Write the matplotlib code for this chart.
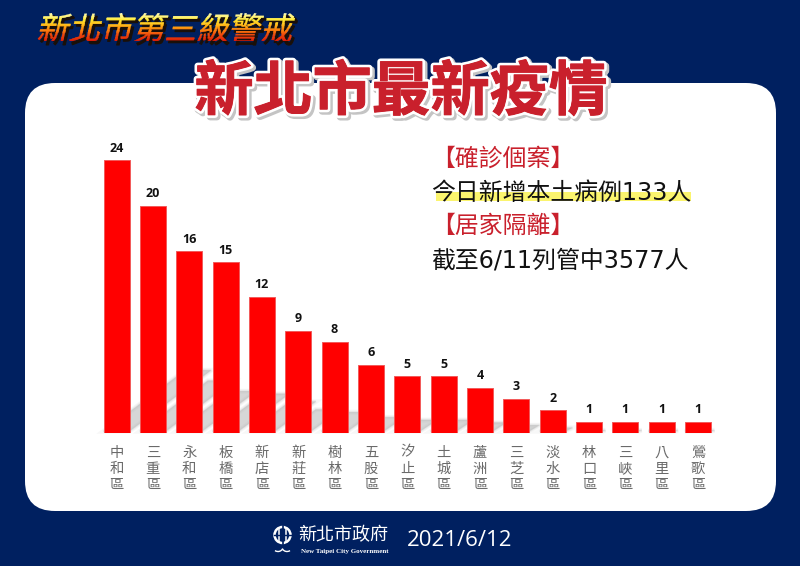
# -*- coding: utf-8 -*-
"""New Taipei daily case card: district bars on a white panel over navy."""
import matplotlib; matplotlib.use("Agg")
import matplotlib.pyplot as plt
import matplotlib.patheffects as pe
from matplotlib.patches import FancyBboxPatch, Rectangle, Polygon, Circle, Arc
from matplotlib.transforms import Affine2D, Bbox
from matplotlib.colors import LinearSegmentedColormap

plt.rcParams["font.family"] = ["Noto Sans CJK TC", "DejaVu Sans"]

districts = ["中和區", "三重區", "永和區", "板橋區", "新店區", "新莊區", "樹林區", "五股區", "汐止區",
             "土城區", "蘆洲區", "三芝區", "淡水區", "林口區", "三峽區", "八里區", "鶯歌區"]
cases = [24, 20, 16, 15, 12, 9, 8, 6, 5, 5, 4, 3, 2, 1, 1, 1, 1]

NAVY = "#002060"
W, H = 800, 566
BAR_W = 26 / 36.34
SHADOW_FRAC = 0.23    # share of the bar height that the floor shadow reaches
SHADOW_LEAN = 0.407   # bar-slots of drift per unit of height
NOTE_FONT = ["DejaVu Sans", "Noto Sans CJK TC"]   # wide digits, CJK falls through


class SlantedGradient(pe.AbstractPathEffect):
    """Shears the glyphs and paints them in horizontal colour bands."""

    def __init__(self, x0, y_top, y_bottom, cmap, slant=13, bands=24):
        self.x0, self.y_top, self.y_bottom = x0, H - y_top, H - y_bottom
        self.cmap, self.slant, self.bands = cmap, slant, bands

    def draw_path(self, renderer, gc, tpath, affine, rgbFace=None):
        shear = Affine2D().translate(-self.x0, -self.y_bottom).skew_deg(self.slant, 0)
        shear = shear.translate(self.x0, self.y_bottom)
        full = affine + shear

        back = renderer.new_gc()
        back.copy_properties(gc)
        back.set_foreground("#1a1008")
        back.set_linewidth(0.8)
        renderer.draw_path(back, tpath, full + Affine2D().translate(2.5, -2.5), (0.1, 0.06, 0.03, 1))
        back.restore()

        step = (self.y_top - self.y_bottom) / self.bands
        for k in range(self.bands):
            y0 = self.y_bottom + k * step
            col = self.cmap((k + 0.5) / self.bands)
            band = renderer.new_gc()
            band.copy_properties(gc)
            band.set_clip_rectangle(Bbox.from_extents(0, y0, W, y0 + step + 0.5))
            band.set_foreground(col)
            band.set_linewidth(0.2)
            renderer.draw_path(band, tpath, full, col)
            band.restore()


fig = plt.figure(figsize=(W / 100, H / 100), dpi=100, facecolor=NAVY)
bg = fig.add_axes([0, 0, 1, 1])
bg.set_xlim(0, W); bg.set_ylim(H, 0); bg.axis("off")

# white panel
bg.add_patch(FancyBboxPatch((25, 83), 751, 428, boxstyle="round,pad=0,rounding_size=30",
                            facecolor="white", edgecolor="none"))

# ---- headings ----
fire = LinearSegmentedColormap.from_list("fire", ["#d81a08", "#f0500c", "#ffa010", "#ffe92e", "#fffcc0"])
sub = bg.text(36, 40, "新北市第三級警戒", fontsize=23, fontweight="medium", color="#ffb010",
              ha="left", va="baseline")
sub.set_path_effects([SlantedGradient(36, 13, 41, fire)])

main = bg.text(401, 110, "新北市最新疫情", fontsize=42.5, fontweight="bold", color="#c9202c",
               ha="center", va="baseline")
main.set_path_effects([
    pe.Stroke(linewidth=5, foreground="#c4c4c4", offset=(1.5, -1.5)),
    pe.Stroke(linewidth=4.5, foreground="white"),
    pe.Stroke(linewidth=0.7, foreground="#c9202c"),
    pe.Normal(),
])

# ---- notes ----
bg.add_patch(Rectangle((436, 192), 255, 9, facecolor="#fbf46e", edgecolor="none"))
bg.text(431, 166, "【確診個案】", fontsize=17.2, color="#c9202c", va="baseline", ha="left")
bg.text(431, 200, "今日新增本土病例133人", fontsize=17.2, color="#111111", va="baseline", ha="left", family=NOTE_FONT)
bg.text(431, 233, "【居家隔離】", fontsize=17.2, color="#c9202c", va="baseline", ha="left")
bg.text(431, 267, "截至6/11列管中3577人", fontsize=17.2, color="#111111", va="baseline", ha="left", family=NOTE_FONT)

# ---- bars: x slots 36.34 px apart, 11.37 px per case ----
left = 116.5 - 36.34 / 2
ax = fig.add_axes([left / W, (H - 433) / H, 17 * 36.34 / W, 26 * 11.37 / H])
ax.patch.set_alpha(0)
ax.set_xlim(-0.5, 16.5); ax.set_ylim(0, 26)
for s in ax.spines.values():
    s.set_visible(False)

for i, v in enumerate(cases):
    rise = v * SHADOW_FRAC
    drift = rise * SHADOW_LEAN
    for grow, alpha in ((3.5, 0.10), (2.2, 0.14), (1.0, 0.2), (0, 0.3)):
        ax.add_patch(Polygon([(i - BAR_W / 2, 0.15), (i + BAR_W / 2, 0.15),
                              (i + BAR_W / 2 + drift, rise), (i - BAR_W / 2 + drift, rise)],
                             facecolor="#b8b8b8", edgecolor="#b8b8b8", linewidth=grow,
                             alpha=alpha, zorder=1, clip_on=False))

bars = ax.bar(range(len(cases)), cases, width=BAR_W, color="#ff0000", edgecolor="#f25a5a",
              linewidth=0.7, zorder=3)
ax.bar_label(bars, labels=[str(v) for v in cases], padding=4, fontsize=9, fontweight="bold",
             color="#111111", family="Open Sans", zorder=4)

ax.set_yticks([])
ax.set_xticks(range(len(districts)))
ax.set_xticklabels(["\n".join(d) for d in districts], fontsize=10.3, color="#6a6a6a", linespacing=1.2)
ax.tick_params(axis="x", length=0, pad=9)

# ---- footer: emblem, wordmark, date ----
bg.add_patch(Circle((282.5, 535), 8, facecolor="none", edgecolor="white", linewidth=1.8))
bg.plot([282.5, 282.5], [526, 544], color=NAVY, lw=1.2)
bg.plot([279, 279], [529, 541], color="white", lw=1.1)
bg.plot([286, 286], [529, 541], color="white", lw=1.1)
bg.plot([274, 291], [535, 535], color=NAVY, lw=1.0)
bg.add_patch(Arc((278, 547), 10, 9, theta1=20, theta2=130, color="white", lw=1.0))
bg.add_patch(Arc((287, 547), 10, 9, theta1=50, theta2=160, color="white", lw=1.0))
bg.text(298, 535, "新北市政府", fontsize=13, color="white", fontweight="light", va="center", ha="left")
bg.text(345, 552, "New Taipei City Government", fontsize=5, color="white", fontweight="bold",
        family="Liberation Serif", va="center", ha="center")
bg.text(407, 541, "2021/6/12", fontsize=16, color="white", family="Open Sans", va="center", ha="left")

fig.savefig("out.png", dpi=100, facecolor=NAVY)
